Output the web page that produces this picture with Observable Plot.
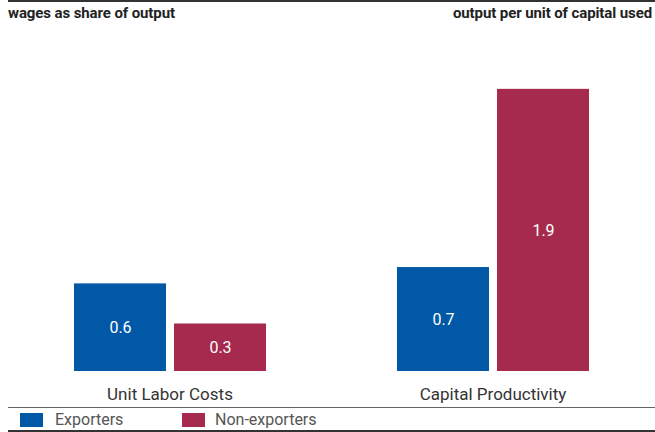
<!DOCTYPE html>
<html>
<head>
<meta charset="utf-8">
<script src="https://cdn.jsdelivr.net/npm/d3@7"></script>
<script src="https://cdn.jsdelivr.net/npm/@observablehq/plot@0.6"></script>
<style>
  body { margin: 0; background: #fff; font-family: Roboto, "Liberation Sans", sans-serif; }
  #wrap { position: relative; width: 655px; height: 432px; overflow: hidden; }
  .abs { position: absolute; }
  .hdr { font-weight: 700; font-size: 15px; line-height: 15px; color: #222; top: 6px; white-space: nowrap; letter-spacing: -0.1px; }
  .leg { font-size: 16px; line-height: 16px; color: #555; top: 412px; white-space: nowrap; }
  .sw { top: 413px; width: 23px; height: 14px; }
  #chart { position: absolute; left: 0; top: 30px; }
</style>
</head>
<body>
<div id="wrap">
  <div class="abs" style="left:8px;top:0;width:647px;height:2px;background:#333"></div>
  <div class="abs hdr" id="hl" style="left:8px"></div>
  <div class="abs hdr" id="hr" style="right:3px"></div>
  <div id="chart"></div>
  <div class="abs" style="left:8px;top:407px;width:647px;height:1px;background:#666"></div>
  <div class="abs" id="legend"></div>
  <div class="abs" style="left:8px;top:430px;width:647px;height:2px;background:#333"></div>
</div>
<script>
const headers = ["wages as share of output", "output per unit of capital used"];
const categories = ["Unit Labor Costs", "Capital Productivity"];
const series = ["Exporters", "Non-exporters"];
const exporters = [0.59, 0.70];
const nonExporters = [0.32, 1.90];
const colors = ["#0058a6", "#a52a4d"];

document.getElementById("hl").textContent = headers[0];
document.getElementById("hr").textContent = headers[1];

const data = [];
categories.forEach((c, i) => {
  data.push({category: c, series: series[0], value: exporters[i]});
  data.push({category: c, series: series[1], value: nonExporters[i]});
});

const chart = Plot.plot({
  width: 655,
  height: 377,
  marginLeft: 8,
  marginRight: 1,
  marginTop: 44,
  marginBottom: 36,
  style: {fontFamily: "Roboto, sans-serif", fontSize: "17px", color: "#333", background: "transparent"},
  fx: {domain: categories, padding: 0, axis: "bottom", label: null, tickSize: 0, tickPadding: 16},
  x: {domain: series, paddingInner: 0.08, paddingOuter: 0.655, axis: null},
  y: {domain: [0, 2], axis: null},
  color: {domain: series, range: colors},
  marks: [
    Plot.barY(data, {fx: "category", x: "series", y: "value", fill: "series"}),
    Plot.text(data, {fx: "category", x: "series", y: d => d.value / 2, text: d => d.value.toFixed(1), fill: "white", fontSize: 16})
  ]
});
document.getElementById("chart").appendChild(chart);

const legend = document.getElementById("legend");
const legPos = [[20, 55], [182, 215]];
series.forEach((s, i) => {
  const sw = document.createElement("div");
  sw.className = "abs sw";
  sw.style.left = legPos[i][0] + "px";
  sw.style.background = colors[i];
  legend.appendChild(sw);
  const t = document.createElement("div");
  t.className = "abs leg";
  t.style.left = legPos[i][1] + "px";
  t.textContent = s;
  legend.appendChild(t);
});
</script>
</body>
</html>
